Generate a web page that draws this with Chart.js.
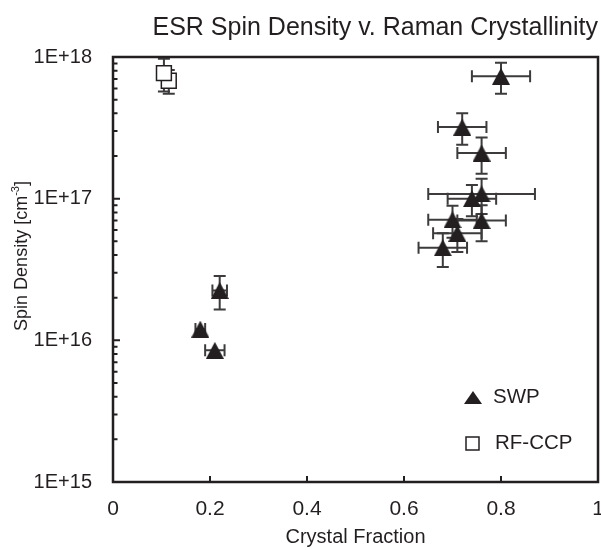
<!DOCTYPE html>
<html>
<head>
<meta charset="utf-8">
<script src="https://cdn.jsdelivr.net/npm/chart.js@4"></script>
<style>
  html, body { margin: 0; padding: 0; background: #fff; }
</style>
</head>
<body>
<canvas id="myChart" width="601" height="550"></canvas>
<script>
// Axis ticks
const xTicks = [0, 0.2, 0.4, 0.6, 0.8, 1];
const xTickLabels = ["0", "0.2", "0.4", "0.6", "0.8", "1"];
const yTicks = [1e15, 1e16, 1e17, 1e18];
const yTickLabels = ["1E+15", "1E+16", "1E+17", "1E+18"];

// SWP samples (filled triangles)
const swpX    = [0.80, 0.72, 0.76, 0.76, 0.74, 0.70, 0.76, 0.71, 0.68, 0.22, 0.18, 0.21];
const swpY    = [7.3e17, 3.2e17, 2.1e17, 1.08e17, 1.0e17, 7.1e16, 7.0e16, 5.7e16, 4.5e16, 2.25e16, 1.2e16, 8.5e15];
const swpXErr = [0.06, 0.05, 0.05, 0.11, 0.05, 0.05, 0.05, 0.05, 0.05, 0.015, 0.01, 0.02];
const swpYErr = [1.8e17, 0.8e17, 0.6e17, 0.3e17, 0.25e17, 1.8e16, 2.0e16, 1.5e16, 1.2e16, 0.6e16, 0, 0];

// RF-CCP samples (open squares)
const ccpX    = [0.115, 0.105];
const ccpY    = [6.8e17, 7.7e17];
const ccpXErr = [0, 0];
const ccpYErr = [1.3e17, 2.0e17];

const ink = "#231f20";
const font = "'Liberation Sans', Arial, sans-serif";

function makeTriangle(w, h) {
    let c = document.createElement("canvas");
    c.width = w;
    c.height = h;
    let ctx = c.getContext("2d");
    ctx.fillStyle = ink;
    ctx.beginPath();
    ctx.moveTo(w / 2, 0);
    ctx.lineTo(w, h);
    ctx.lineTo(0, h);
    ctx.closePath();
    ctx.fill();
    return c;
}

function toPoints(xs, ys) {
    return xs.map((x, i) => ({x: x, y: ys[i]}));
}

const errors = [
    {dx: swpXErr, dy: swpYErr},
    {dx: ccpXErr, dy: ccpYErr}
];

// error bars, frame, inner tick marks, legend and y title
const decor = {
    id: "decor",
    beforeDatasetsDraw(chart) {
        const ctx = chart.ctx;
        const xs = chart.scales.x, ys = chart.scales.y;
        const cap = 6;
        ctx.save();
        ctx.strokeStyle = "#3d3b3c";
        ctx.lineWidth = 2;
        chart.data.datasets.forEach((ds, d) => {
            ds.data.forEach((p, i) => {
                const px = xs.getPixelForValue(p.x);
                const py = ys.getPixelForValue(p.y);
                const ex = errors[d].dx[i], ey = errors[d].dy[i];
                ctx.beginPath();
                if (ex > 0) {
                    const x1 = xs.getPixelForValue(p.x - ex), x2 = xs.getPixelForValue(p.x + ex);
                    ctx.moveTo(x1, py); ctx.lineTo(x2, py);
                    ctx.moveTo(x1, py - cap); ctx.lineTo(x1, py + cap);
                    ctx.moveTo(x2, py - cap); ctx.lineTo(x2, py + cap);
                }
                if (ey > 0) {
                    const y1 = ys.getPixelForValue(p.y + ey), y2 = ys.getPixelForValue(p.y - ey);
                    ctx.moveTo(px, y1); ctx.lineTo(px, y2);
                    ctx.moveTo(px - cap, y1); ctx.lineTo(px + cap, y1);
                    ctx.moveTo(px - cap, y2); ctx.lineTo(px + cap, y2);
                }
                ctx.stroke();
            });
        });
        ctx.restore();
    },
    afterDraw(chart) {
        const ctx = chart.ctx;
        const a = chart.chartArea;
        const xs = chart.scales.x, ys = chart.scales.y;
        ctx.save();
        ctx.strokeStyle = ink;

        // ticks inside the plot
        ctx.lineWidth = 2;
        ctx.beginPath();
        xTicks.forEach((v) => {
            const px = xs.getPixelForValue(v);
            ctx.moveTo(px, a.bottom);
            ctx.lineTo(px, a.bottom - 6);
        });
        for (let e = 15; e < 18; e++) {
            for (let m = 1; m < 10; m++) {
                const py = ys.getPixelForValue(m * Math.pow(10, e));
                ctx.moveTo(a.left, py);
                ctx.lineTo(a.left + (m === 1 ? 7 : 4.5), py);
            }
        }
        ctx.stroke();

        // frame
        ctx.lineWidth = 2.5;
        ctx.strokeRect(a.left, a.top, a.right - a.left, a.bottom - a.top);

        // legend
        const lt = makeTriangle(18, 13);
        ctx.drawImage(lt, 464, 391);
        ctx.fillStyle = "#fff";
        ctx.lineWidth = 1.5;
        ctx.fillRect(466, 437, 13, 13);
        ctx.strokeRect(466, 437, 13, 13);
        ctx.fillStyle = ink;
        ctx.font = "20.5px " + font;
        ctx.textBaseline = "middle";
        ctx.textAlign = "left";
        ctx.fillText(chart.data.datasets[0].label, 493, 397);
        ctx.fillText(chart.data.datasets[1].label, 495, 443);

        // y axis title with superscript
        ctx.translate(27, 256);
        ctx.rotate(-Math.PI / 2);
        ctx.textBaseline = "alphabetic";
        const main = "Spin Density [cm", sup = "-3", end = "]";
        ctx.font = "18px " + font;
        const w1 = ctx.measureText(main).width, w3 = ctx.measureText(end).width;
        ctx.font = "11px " + font;
        const w2 = ctx.measureText(sup).width;
        let x0 = -(w1 + w2 + w3) / 2;
        ctx.font = "18px " + font;
        ctx.fillText(main, x0, 0);
        ctx.font = "11px " + font;
        ctx.fillText(sup, x0 + w1, -8);
        ctx.font = "18px " + font;
        ctx.fillText(end, x0 + w1 + w2, 0);
        ctx.restore();
    }
};

new Chart("myChart", {
    type: "scatter",
    data: {
        datasets: [
            {
                label: "SWP",
                data: toPoints(swpX, swpY),
                pointStyle: makeTriangle(18, 17),
                pointRadius: 9,
                pointHoverRadius: 9
            },
            {
                label: "RF-CCP",
                data: toPoints(ccpX, ccpY),
                pointStyle: "rect",
                pointRadius: 10.5,
                pointHoverRadius: 10.5,
                borderWidth: 1.5,
                borderColor: ink,
                backgroundColor: "#fff"
            }
        ]
    },
    options: {
        responsive: false,
        animation: false,
        events: [],
        layout: {autoPadding: false, padding: {left: 0, right: 3, top: 0, bottom: 0}},
        plugins: {
            legend: {display: false},
            tooltip: {enabled: false},
            title: {
                display: true,
                text: "ESR Spin Density v. Raman Crystallinity",
                align: "end",
                color: ink,
                font: {family: font, size: 25, weight: "normal"},
                padding: {top: 13, bottom: 14}
            }
        },
        scales: {
            x: {
                type: "linear",
                min: 0,
                max: 1,
                grid: {display: false, drawTicks: false},
                border: {display: false},
                afterBuildTicks: (scale) => {
                    scale.ticks = xTicks.map((v) => ({value: v}));
                },
                afterFit: (scale) => {
                    scale.height = 68;
                    scale.paddingLeft = 0;
                    scale.paddingRight = 0;
                },
                ticks: {
                    color: ink,
                    padding: 15,
                    font: {family: font, size: 21},
                    maxRotation: 0,
                    autoSkip: false,
                    callback: (v) => xTickLabels[xTicks.indexOf(v)]
                },
                title: {
                    display: true,
                    text: "Crystal Fraction",
                    color: ink,
                    font: {family: font, size: 20},
                    padding: {top: 0, bottom: 1}
                }
            },
            y: {
                type: "logarithmic",
                min: 1e15,
                max: 1e18,
                grid: {display: false, drawTicks: false},
                border: {display: false},
                afterBuildTicks: (scale) => {
                    scale.ticks = yTicks.map((v) => ({value: v}));
                },
                afterFit: (scale) => {
                    scale.width = 113;
                    scale.paddingTop = 0;
                    scale.paddingBottom = 0;
                },
                ticks: {
                    color: ink,
                    padding: 21,
                    font: {family: font, size: 20},
                    autoSkip: false,
                    callback: (v) => yTickLabels[yTicks.indexOf(v)]
                }
            }
        }
    },
    plugins: [decor]
});
</script>
</body>
</html>
